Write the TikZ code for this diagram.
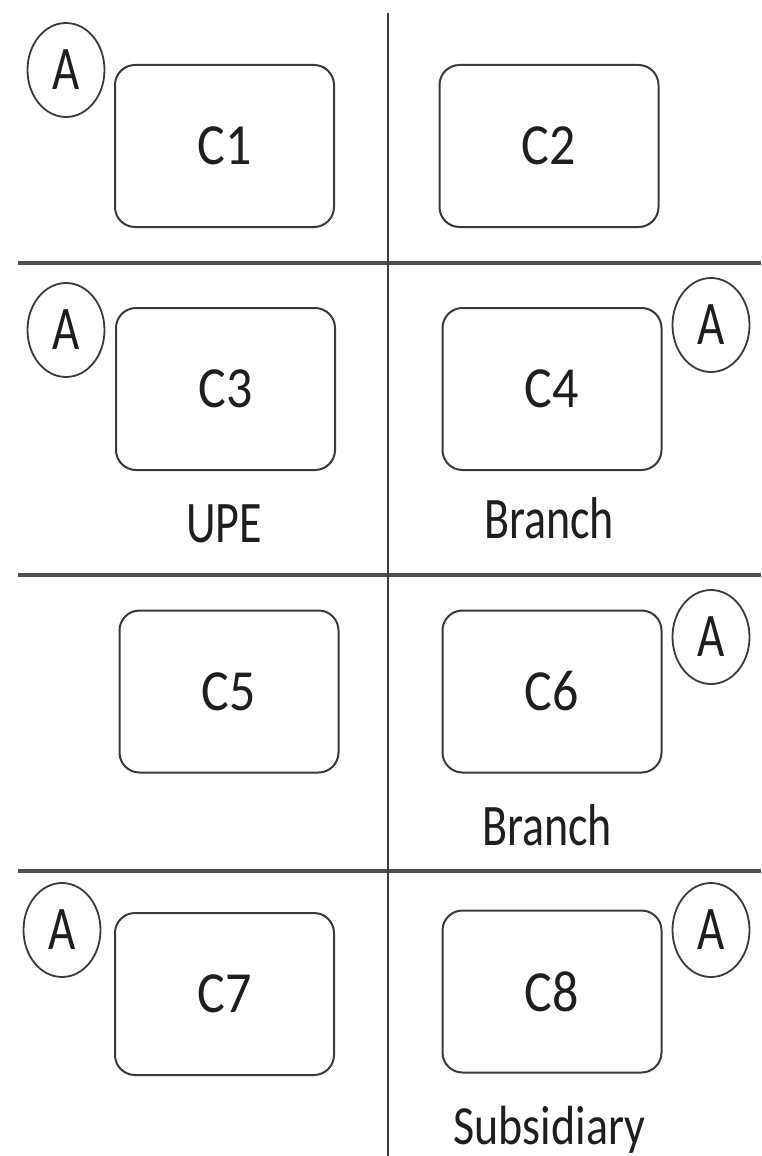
\documentclass[tikz,border=0pt]{standalone}
\usepackage{fontspec}
\setmainfont{Carlito}
\usetikzlibrary{shapes.geometric}
\definecolor{linec}{HTML}{3A3A3A}
\definecolor{textc}{HTML}{1E1E1E}
\begin{document}
\begin{tikzpicture}[x=1pt,y=-1pt,
  cbox/.style={draw=linec, line width=2pt, rounded corners=20pt, minimum width=219pt, minimum height=162pt, inner sep=0pt, text=textc,
    font=\fontsize{52}{52}\selectfont},
  amark/.style={draw=linec, line width=1.8pt, ellipse, minimum width=77pt, minimum height=94pt, inner sep=0pt, text=textc,
    font=\fontsize{47}{47}\selectfont},
  lbl/.style={anchor=base, inner sep=0pt, text=textc, font=\fontsize{46}{46}\selectfont},
  hline/.style={draw=linec!90, line width=3.2pt},
  vline/.style={draw=linec, line width=2pt}]
\useasboundingbox (0,0) rectangle (761,1156);
\fill[white] (0,0) rectangle (761,1156);
% dividers
\coordinate (vt) at (388,13);
\coordinate (vb) at (388,1156);
\coordinate (h1l) at (18,263);  \coordinate (h1r) at (761,263);
\coordinate (h2l) at (18,575);  \coordinate (h2r) at (761,575);
\coordinate (h3l) at (18,871);  \coordinate (h3r) at (761,871);
\draw[hline] (h1l) -- (h1r);
\draw[hline] (h2l) -- (h2r);
\draw[hline] (h3l) -- (h3r);
\draw[vline] (vt) -- (vb);
% boxes
\node[cbox] (c1) at (224.5,146) {\scalebox{1}[1.12]{C1}};
\node[cbox] (c2) at (549,146) {\scalebox{1}[1.12]{C2}};
\node[cbox] (c3) at (225.5,389) {\scalebox{1}[1.12]{C3}};
\node[cbox] (c4) at (552,389) {\scalebox{1}[1.12]{C4}};
\node[cbox] (c5) at (229,691.5) {\scalebox{1}[1.12]{C5}};
\node[cbox] (c6) at (552,691.5) {\scalebox{1}[1.12]{C6}};
\node[cbox] (c7) at (224.5,994) {\scalebox{1}[1.12]{C7}};
\node[cbox] (c8) at (552,991.5) {\scalebox{1}[1.12]{C8}};
% A marks
\node[amark] (a1) at (66,70) {\scalebox{1}[1.32]{A}};
\node[amark] (a3) at (66,330) {\scalebox{1}[1.32]{A}};
\node[amark] (a4) at (711,325) {\scalebox{1}[1.32]{A}};
\node[amark] (a6) at (711,637) {\scalebox{1}[1.32]{A}};
\node[amark] (a7) at (62,930) {\scalebox{1}[1.32]{A}};
\node[amark] (a8) at (711,930) {\scalebox{1}[1.32]{A}};
% labels
\node[lbl] (l3) at (224,542) {\scalebox{1}[1.28]{UPE}};
\node[lbl] (l4) at (549,538) {\scalebox{1}[1.28]{Branch}};
\node[lbl] (l6) at (547,845) {\scalebox{1}[1.28]{Branch}};
\node[lbl] (l8) at (549.5,1144) {\scalebox{1}[1.2]{Subsidiary}};
\end{tikzpicture}
\end{document}
